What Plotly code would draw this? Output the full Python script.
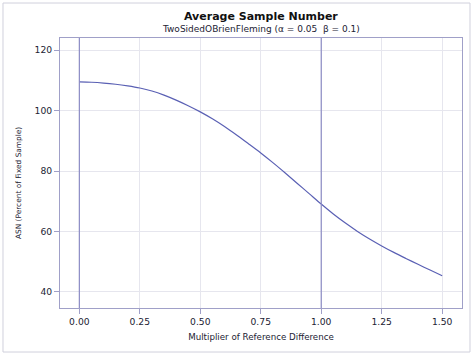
import plotly.graph_objects as go

multiplier = [0.0, 0.05, 0.1, 0.15, 0.2, 0.25, 0.3, 0.35, 0.4, 0.45, 0.5,
              0.55, 0.6, 0.65, 0.7, 0.75, 0.8, 0.85, 0.9, 0.95, 1.0,
              1.05, 1.1, 1.15, 1.2, 1.25, 1.3, 1.35, 1.4, 1.45, 1.5]
asn = [109.5, 109.4, 109.15, 108.75, 108.2, 107.5, 106.5, 105.15, 103.5, 101.65, 99.6,
       97.3, 94.75, 91.95, 89.0, 86.0, 82.8, 79.45, 76.0, 72.55, 69.1,
       65.8, 62.8, 60.05, 57.55, 55.25, 53.1, 51.1, 49.15, 47.25, 45.4]
x_ticks = [0.0, 0.25, 0.5, 0.75, 1.0, 1.25, 1.5]
x_ticklabels = ["0.00", "0.25", "0.50", "0.75", "1.00", "1.25", "1.50"]
y_ticks = [40, 60, 80, 100, 120]
ref_lines = [0.0, 1.0]

FONT = "DejaVu Sans"
TXT = "#222233"
FRAME = "#a0a0c8"
GRID = "#e6e6ee"
LINE = "#5a60b4"

fig = go.Figure()
fig.add_trace(go.Scatter(x=multiplier, y=asn, mode="lines",
                         line=dict(color=LINE, width=1.2, shape="spline", smoothing=0.8),
                         showlegend=False, hoverinfo="skip"))

for rx in ref_lines:
    fig.add_shape(type="line", xref="x", yref="paper", x0=rx, x1=rx, y0=0, y1=1,
                  line=dict(color="#8c8cc4", width=1.2), layer="above")

# outer figure border
fig.add_shape(type="rect", xref="paper", yref="paper",
              x0=-0.1418, x1=1.0199, y0=-0.163, y1=1.1296,
              line=dict(color="#d0d0dc", width=1))

fig.add_annotation(text="<b>Average Sample Number</b>", xref="paper", yref="paper",
                   x=0.5, y=(308 - 16) / 270, showarrow=False,
                   font=dict(family=FONT, size=11, color="#111111"),
                   xanchor="center", yanchor="middle")
fig.add_annotation(text="TwoSidedOBrienFleming (α = 0.05  β = 0.1)", xref="paper", yref="paper",
                   x=0.5, y=(308 - 29) / 270, showarrow=False,
                   font=dict(family=FONT, size=9, color=TXT),
                   xanchor="center", yanchor="middle")
fig.add_annotation(text="ASN (Percent of Fixed Sample)", xref="paper", yref="paper",
                   x=(19 - 60) / 402, y=(308 - 183) / 270, showarrow=False, textangle=-90,
                   font=dict(family=FONT, size=7.4, color=TXT),
                   xanchor="center", yanchor="middle")

fig.update_layout(
    width=474, height=356,
    margin=dict(l=60, r=12, t=38, b=48),
    paper_bgcolor="white", plot_bgcolor="white",
    font=dict(family=FONT, color=TXT, size=9.2),
    xaxis=dict(range=[-0.080, 1.582], tickvals=x_ticks, ticktext=x_ticklabels,
               showgrid=True, gridcolor=GRID, gridwidth=1,
               showline=True, linecolor=FRAME, linewidth=1, mirror=True,
               ticks="outside", ticklen=5, tickcolor=FRAME, zeroline=False,
               title=dict(text="Multiplier of Reference Difference",
                          font=dict(family=FONT, size=8.7, color=TXT), standoff=7),
               tickfont=dict(family=FONT, size=9.2, color=TXT)),
    yaxis=dict(range=[34.7, 124.05], tickvals=y_ticks,
               showgrid=True, gridcolor=GRID, gridwidth=1,
               showline=True, linecolor=FRAME, linewidth=1, mirror=True,
               ticks="outside", ticklen=5, tickcolor=FRAME, zeroline=False,
               tickfont=dict(family=FONT, size=9.2, color=TXT)),
)

fig.write_html("out.html", config={"displayModeBar": False},
               post_script="document.body.style.margin='0';document.body.style.overflow='hidden';")
